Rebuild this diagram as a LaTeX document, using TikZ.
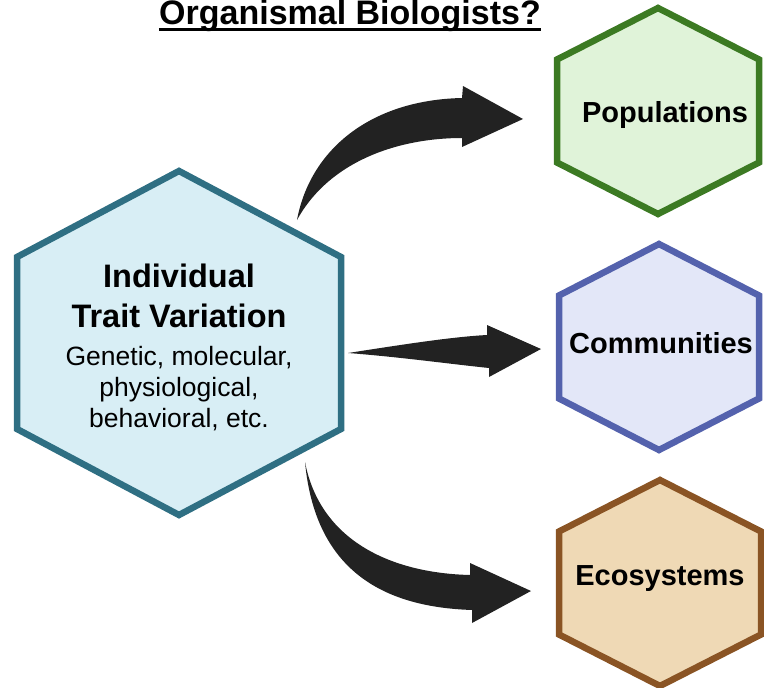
\documentclass[tikz,border=0pt]{standalone}
\usepackage{fontspec}
\setmainfont{Liberation Sans}
\usepackage{tikz}
\usetikzlibrary{positioning, arrows.meta}

\definecolor{indfill}{HTML}{D8EEF5}
\definecolor{inddraw}{HTML}{2F6F83}
\definecolor{popfill}{HTML}{E0F3D9}
\definecolor{popdraw}{HTML}{3C7A23}
\definecolor{comfill}{HTML}{E3E7F8}
\definecolor{comdraw}{HTML}{5462AD}
\definecolor{ecofill}{HTML}{EFD9B5}
\definecolor{ecodraw}{HTML}{8A5424}
\definecolor{arrowfill}{HTML}{222222}

\begin{document}
\begin{tikzpicture}[x=1pt, y=-1pt,
    hexline/.style={line width=6.5pt},
    label/.style={inner sep=0pt, anchor=base, align=center, font=\fontsize{29}{34}\selectfont\bfseries},
    blockarrow/.style={fill=arrowfill, draw=none}]
    \useasboundingbox (0,0) rectangle (764,688);

    % hexagons
    \foreach \cx/\cy/\hw/\r/\fc/\dc in {179/343/162/172/indfill/inddraw,
                                       658/111/101/103/popfill/popdraw,
                                       659/347/100/103/comfill/comdraw,
                                       660/583/101/103/ecofill/ecodraw}
        \draw[hexline, draw=\dc, fill=\fc] (\cx,\cy-\r) -- (\cx+\hw,\cy-\r/2) -- (\cx+\hw,\cy+\r/2)
            -- (\cx,\cy+\r) -- (\cx-\hw,\cy+\r/2) -- (\cx-\hw,\cy-\r/2) -- cycle;

    % title
    \node[inner sep=0pt, anchor=base, font=\fontsize{34}{40}\selectfont\bfseries] (title) at (350,24) {Organismal Biologists?};
    \draw[line width=3pt] ([yshift=-5.5pt]title.base west) -- ([yshift=-5.5pt]title.base east);

    % texts (base = last line)
    \node[label, font=\fontsize{32.5}{40}\selectfont\bfseries] (indiv) at (179,327) {Individual\\Trait Variation};
    \node[label, font=\fontsize{26.5}{31}\selectfont] (indivsub) at (179,427) {Genetic, molecular,\\physiological,\\behavioral, etc.};
    \node[label] (pop) at (665,122) {Populations};
    \node[label] (comm) at (661,353) {Communities};
    \node[label] (eco) at (660,585) {Ecosystems};

    % arrows
    \coordinate (tailpop) at (297,220);
    \coordinate (tailcomm) at (348,353);
    \coordinate (taileco) at (305,462);

    \fill[blockarrow] (tailpop) .. controls (310,150) and (370,100) .. (462,98) -- (463,86) -- (523,119)
        -- (462,147) -- (462,138) .. controls (400,138) and (330,160) .. (tailpop) -- cycle;
    \fill[blockarrow] (tailcomm) .. controls (400,345) and (450,337) .. (487,335) -- (487,325) -- (541,349)
        -- (489,377) -- (489,368) .. controls (450,364) and (400,357) .. (tailcomm) -- cycle;
    \fill[blockarrow] (taileco) .. controls (320,540) and (390,573) .. (470,575) -- (470,563) -- (531,591)
        -- (472,623) -- (472,610) .. controls (380,607) and (315,568) .. (taileco) -- cycle;
\end{tikzpicture}
\end{document}
